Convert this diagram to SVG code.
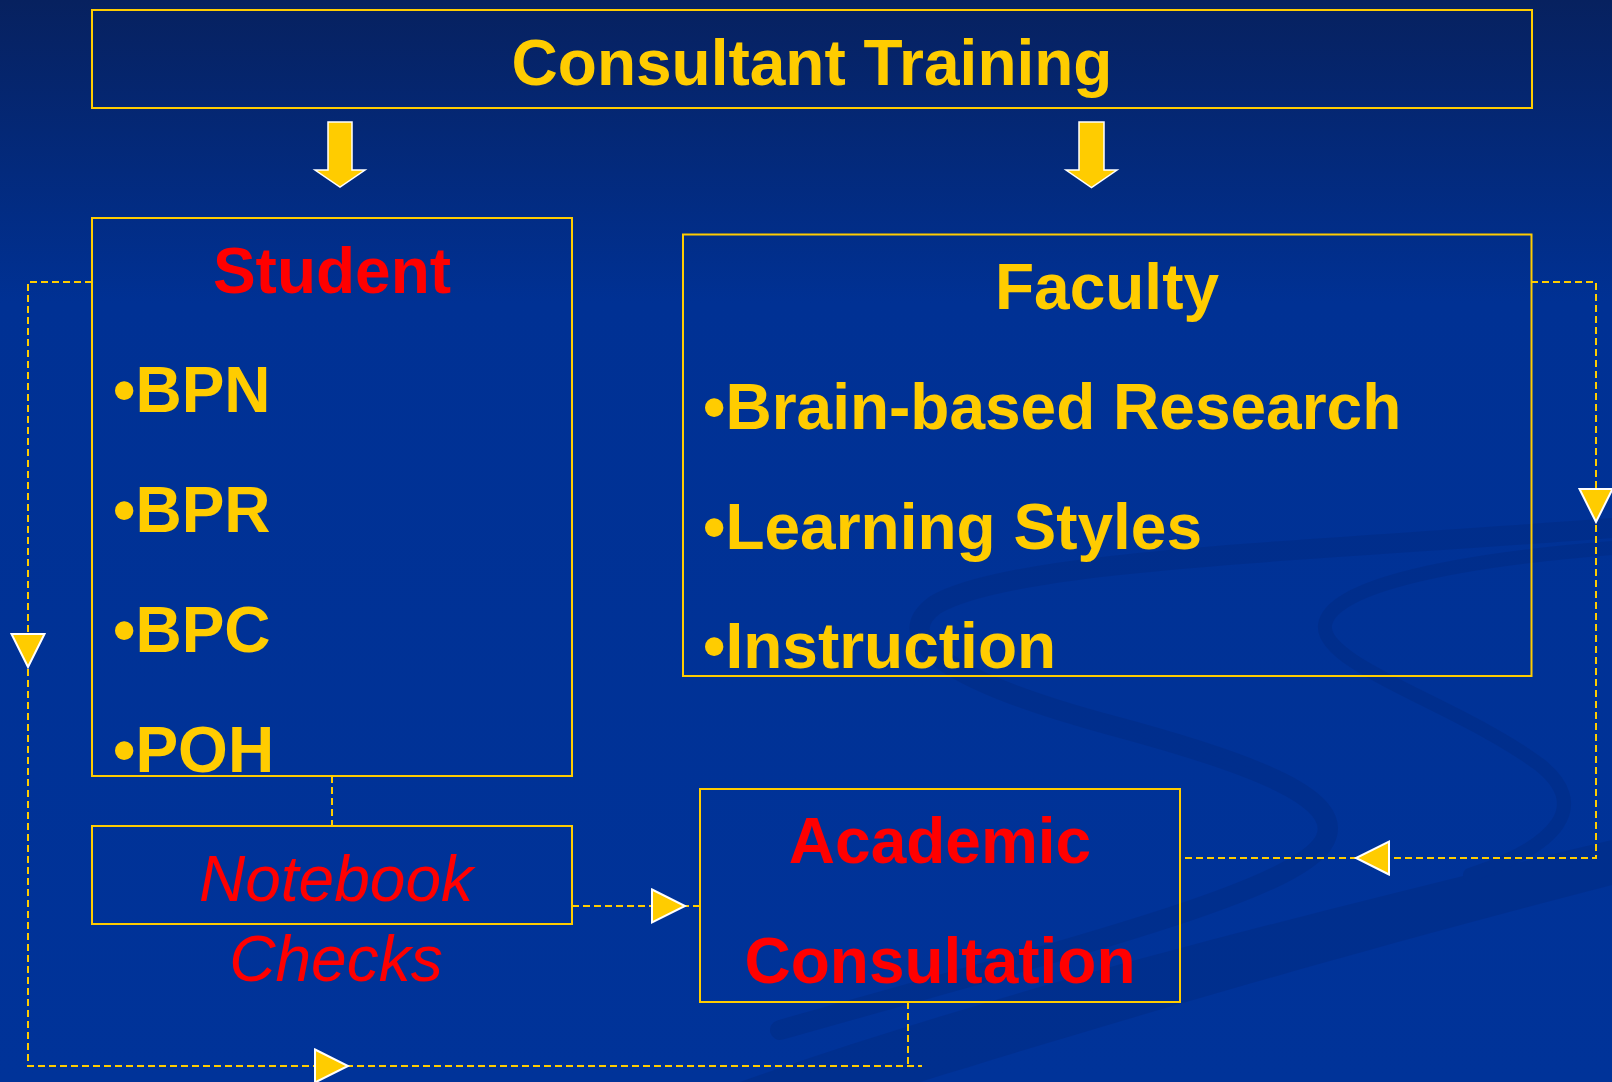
<svg xmlns="http://www.w3.org/2000/svg" width="1612" height="1082" viewBox="0 0 1612 1082">
  <defs>
    <linearGradient id="bg" x1="0" y1="0" x2="0" y2="1">
      <stop offset="0" stop-color="#07215f"/>
      <stop offset="0.28" stop-color="#003194"/>
      <stop offset="1" stop-color="#003399"/>
    </linearGradient>
    <path id="tri" d="M0,-16.5 L33,0 L0,16.5 Z"/>
    <style>
      .box { fill: none; stroke: #FFCC00; stroke-width: 2; }
      .dash { fill: none; stroke: #FFCC00; stroke-width: 2; stroke-dasharray: 7 4; }
      .head { fill: #FFCC00; stroke: #FFFFFF; stroke-width: 2; stroke-linejoin: miter; }
      .blk { fill: #FFCC00; stroke: #FFFFFF; stroke-width: 1.5; }
      .t { font-family: "Liberation Sans", Arial, sans-serif; font-size: 64px; font-weight: bold; }
      .y { fill: #FFCC00; }
      .r { fill: #FF0000; }
      .it { font-family: "Liberation Sans", Arial, sans-serif; font-size: 64px; font-style: italic; fill: #FF0000; }
      .sw { fill: none; stroke: #002470; stroke-linecap: round; }
    </style>
  </defs>

  <rect x="0" y="0" width="1612" height="1082" fill="url(#bg)"/>

  <g id="background-swirls" opacity="0.25">
    <path d="M740,1082 C1000,990 1300,915 1612,840 L1612,885 C1360,950 1120,1020 920,1082 Z" fill="#002470"/>
    <path class="sw" stroke-width="20" d="M1612,528 C1300,552 1010,560 935,605 C880,645 980,690 1110,725 C1260,765 1345,800 1325,840 C1300,890 1080,945 780,1030"/>
    <path class="sw" stroke-width="14" d="M1612,548 C1460,560 1330,585 1325,625 C1320,665 1460,705 1540,765 C1590,805 1560,845 1470,875"/>
    <path class="sw" stroke-width="5" d="M940,660 C1050,700 1150,740 1250,770"/>
  </g>

  <g id="connectors">
    <path class="dash" d="M92,282 H28 V1066 H922"/>
    <path class="dash" d="M908,1002 V1066"/>
    <path class="dash" d="M332,776 V826"/>
    <path class="dash" d="M572,906 H700"/>
    <path class="dash" d="M1531,282 H1596 V858 H1184"/>
    <use href="#tri" class="head" transform="translate(28,634) rotate(90)"/>
    <use href="#tri" class="head" transform="translate(315,1066)"/>
    <use href="#tri" class="head" transform="translate(652,906)"/>
    <use href="#tri" class="head" transform="translate(1596,489) rotate(90)"/>
    <use href="#tri" class="head" transform="translate(1389,858) rotate(180)"/>
    <path class="blk" d="M328,122 H352 V170 H365 L340,187 L315,170 H328 Z"/>
    <path class="blk" d="M1079,122 H1104 V170 H1117 L1091.5,187.5 L1066,170 H1079 Z"/>
  </g>

  <g id="consultant-training">
    <rect class="box" x="92" y="10" width="1440" height="98"/>
    <text class="t y" x="812" y="85" text-anchor="middle">Consultant Training</text>
  </g>

  <g id="student">
    <rect class="box" x="92" y="218" width="480" height="558"/>
    <text class="t r" x="332" y="293" text-anchor="middle">Student</text>
    <text class="t y" x="113" y="412">•BPN</text>
    <text class="t y" x="113" y="532">•BPR</text>
    <text class="t y" x="113" y="652">•BPC</text>
    <text class="t y" x="113" y="772">•POH</text>
  </g>

  <g id="faculty">
    <rect class="box" x="683" y="234.5" width="848.5" height="441.5"/>
    <text class="t y" x="1107" y="309" text-anchor="middle">Faculty</text>
    <text class="t y" x="703" y="429">•Brain-based Research</text>
    <text class="t y" x="703" y="549">•Learning Styles</text>
    <text class="t y" x="703" y="668">•Instruction</text>
  </g>

  <g id="notebook-checks">
    <rect class="box" x="92" y="826" width="480" height="98"/>
    <text class="it" x="336" y="901" text-anchor="middle">Notebook</text>
    <text class="it" x="336" y="981" text-anchor="middle">Checks</text>
  </g>

  <g id="academic-consultation">
    <rect class="box" x="700" y="789" width="480" height="213"/>
    <text class="t r" x="940" y="863" text-anchor="middle">Academic</text>
    <text class="t r" x="940" y="983" text-anchor="middle">Consultation</text>
  </g>
</svg>
